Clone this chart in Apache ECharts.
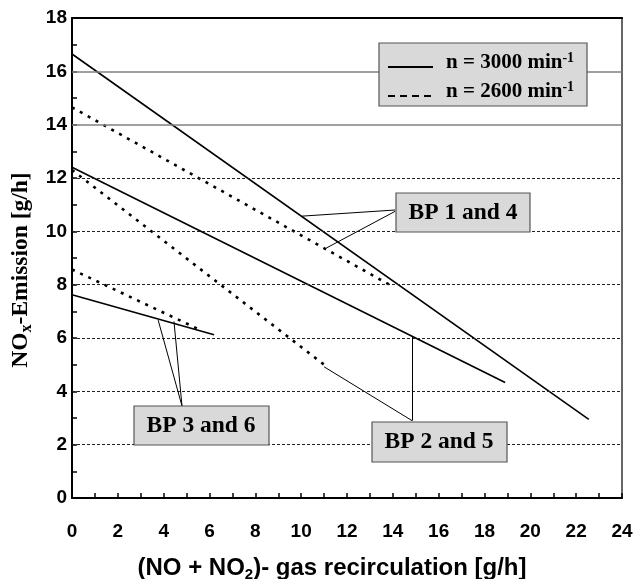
<!DOCTYPE html>
<html>
<head>
<meta charset="utf-8">
<script src="https://cdn.jsdelivr.net/npm/echarts@6/dist/echarts.min.js"></script>
<style>
  html, body { margin: 0; padding: 0; background: #fff; }
  #chart { width: 639px; height: 579px; }
</style>
</head>
<body>
<div id="chart"></div>
<script>
// data (x = recirculation g/h, y = NOx g/h)
var bp1_3000 = [[0, 16.65], [22.55, 2.95]];
var bp4_2600 = [[0, 14.65], [13.85, 8.0]];
var bp2_3000 = [[0, 12.4], [18.9, 4.33]];
var bp5_2600 = [[0, 12.3], [11.0, 5.0]];
var bp3_3000 = [[0, 7.62], [6.2, 6.12]];
var bp6_2600 = [[0, 8.57], [5.6, 6.3]];

var solidGrid = [14, 16];
var dashedGrid = [2, 4, 6, 8, 10, 12];

// leader lines from the label boxes to the curves
var leaders = [
  [[14.1, 10.8], [10.04, 10.57]],
  [[14.1, 10.75], [11.09, 9.37]],
  [[4.8, 3.45], [3.76, 6.67]],
  [[4.8, 3.45], [4.45, 6.62]],
  [[14.84, 2.9], [14.84, 6.04]],
  [[14.84, 2.9], [11.0, 4.92]]
];

var serif = 'Liberation Serif';
var sans = 'Liberation Sans';

var chart = echarts.init(document.getElementById('chart'));

function evenOnly(v) { return v % 2 === 0 ? String(v) : ''; }

var solid = { color: '#000', width: 1.6, type: 'solid' };
var dotted = { color: '#000', width: 2.6, type: [3, 6], cap: 'butt' };

function lineSeries(name, data, style) {
  return {
    name: name, type: 'line', data: data, symbol: 'none',
    lineStyle: style, silent: true, z: 3, animation: false
  };
}

var box = { fill: '#d9d9d9', stroke: '#555', lineWidth: 1.2 };

function boxLabel(txt, x, y) {
  return {
    type: 'text', x: x, y: y, z: 12,
    style: { text: txt, fontFamily: serif, fontWeight: 'bold', fontSize: 23.5, fill: '#000', align: 'center', verticalAlign: 'middle' }
  };
}

var supRich = {
  t: { fontFamily: serif, fontWeight: 'bold', fontSize: 21, fill: '#000' },
  s: { fontFamily: serif, fontWeight: 'bold', fontSize: 14, fill: '#000', verticalAlign: 'top', padding: [0, 0, 10, 0] }
};

chart.setOption({
  animation: false,
  grid: { left: 72, right: 17, top: 18, bottom: 81, containLabel: false, outerBoundsMode: 'none' },
  xAxis: [{
    type: 'value', min: 0, max: 24, interval: 1,
    name: '{t|(NO + NO}{sub|2}{t|)- gas recirculation [g/h]}',
    nameLocation: 'middle', nameGap: 56,
    nameTextStyle: {
      padding: [0, 30, 0, 0],
      rich: {
        t: { fontFamily: sans, fontWeight: 'bold', fontSize: 24, color: '#000' },
        sub: { fontFamily: sans, fontWeight: 'bold', fontSize: 15, color: '#000', verticalAlign: 'bottom', padding: [13, 0, 0, 0] }
      }
    },
    axisLine: { onZero: false, lineStyle: { color: '#000', width: 2 } },
    axisTick: { inside: true, length: 5, lineStyle: { color: '#000', width: 1.5 } },
    axisLabel: { formatter: evenOnly, margin: 24, fontFamily: sans, fontWeight: 'bold', fontSize: 19, color: '#000' },
    splitLine: { show: false }
  }, {
    type: 'value', min: 0, max: 24, position: 'top',
    axisLine: { onZero: false, lineStyle: { color: '#000', width: 2 } },
    axisTick: { show: false }, axisLabel: { show: false }, splitLine: { show: false }
  }],
  yAxis: [{
    type: 'value', min: 0, max: 18, interval: 1,
    name: '{t|NO}{sub|x}{t|-Emission [g/h]}',
    nameLocation: 'middle', nameGap: 37, nameRotate: 90,
    nameTextStyle: {
      padding: [0, 24, 0, 0],
      rich: {
        t: { fontFamily: serif, fontWeight: 'bold', fontSize: 23.5, color: '#000' },
        sub: { fontFamily: serif, fontWeight: 'bold', fontSize: 16, color: '#000', verticalAlign: 'bottom', padding: [13, 0, 0, 0] }
      }
    },
    axisLine: { onZero: false, lineStyle: { color: '#000', width: 2 } },
    axisTick: { inside: true, length: 5, lineStyle: { color: '#000', width: 1.5 } },
    axisLabel: { formatter: evenOnly, margin: 5, fontFamily: sans, fontWeight: 'bold', fontSize: 19, color: '#000' },
    splitLine: { show: false }
  }, {
    type: 'value', min: 0, max: 18, position: 'right',
    axisLine: { show: true, onZero: false, lineStyle: { color: '#666', width: 2 } },
    axisTick: { show: false }, axisLabel: { show: false }, splitLine: { show: false }
  }],
  series: [
    {
      type: 'line', data: [], silent: true, z: 1,
      markLine: {
        silent: true, symbol: 'none', label: { show: false }, animation: false,
        data: solidGrid.map(function (v) {
          return { yAxis: v, lineStyle: { color: '#808080', width: 1.6, type: 'solid' } };
        }).concat(dashedGrid.map(function (v) {
          return { yAxis: v, lineStyle: { color: '#222', width: 1, type: [3, 2] } };
        }))
      }
    },
    lineSeries('BP 1 (3000)', bp1_3000, solid),
    lineSeries('BP 4 (2600)', bp4_2600, dotted),
    lineSeries('BP 2 (3000)', bp2_3000, solid),
    lineSeries('BP 5 (2600)', bp5_2600, dotted),
    lineSeries('BP 3 (3000)', bp3_3000, solid),
    lineSeries('BP 6 (2600)', bp6_2600, dotted),
    {
      type: 'line', data: [], silent: true, z: 4,
      markLine: {
        silent: true, symbol: 'none', label: { show: false }, animation: false,
        lineStyle: { color: '#000', width: 1, type: 'solid' },
        data: leaders.map(function (l) {
          return [{ coord: l[0] }, { coord: l[1] }];
        })
      }
    }
  ],
  graphic: [
    // legend
    { type: 'rect', shape: { x: 379, y: 43, width: 208, height: 63 }, style: box, z: 10 },
    { type: 'line', shape: { x1: 388, y1: 67, x2: 433, y2: 67 }, style: { stroke: '#000', lineWidth: 2 }, z: 11 },
    { type: 'line', shape: { x1: 388, y1: 96, x2: 433, y2: 96 }, style: { stroke: '#000', lineWidth: 2, lineDash: [7, 5] }, z: 11 },
    { type: 'text', x: 446, y: 63, z: 11, style: { text: '{t|n = 3000 min}{s|-1}', verticalAlign: 'middle', rich: supRich } },
    { type: 'text', x: 446, y: 92, z: 11, style: { text: '{t|n = 2600 min}{s|-1}', verticalAlign: 'middle', rich: supRich } },
    // label boxes
    { type: 'rect', shape: { x: 396, y: 193, width: 134, height: 39 }, style: box, z: 10 },
    boxLabel('BP 1 and 4', 463, 213),
    { type: 'rect', shape: { x: 134, y: 406, width: 135, height: 39 }, style: box, z: 10 },
    boxLabel('BP 3 and 6', 201, 426),
    { type: 'rect', shape: { x: 372, y: 422, width: 135, height: 40 }, style: box, z: 10 },
    boxLabel('BP 2 and 5', 439, 442)
  ]
});
</script>
</body>
</html>
